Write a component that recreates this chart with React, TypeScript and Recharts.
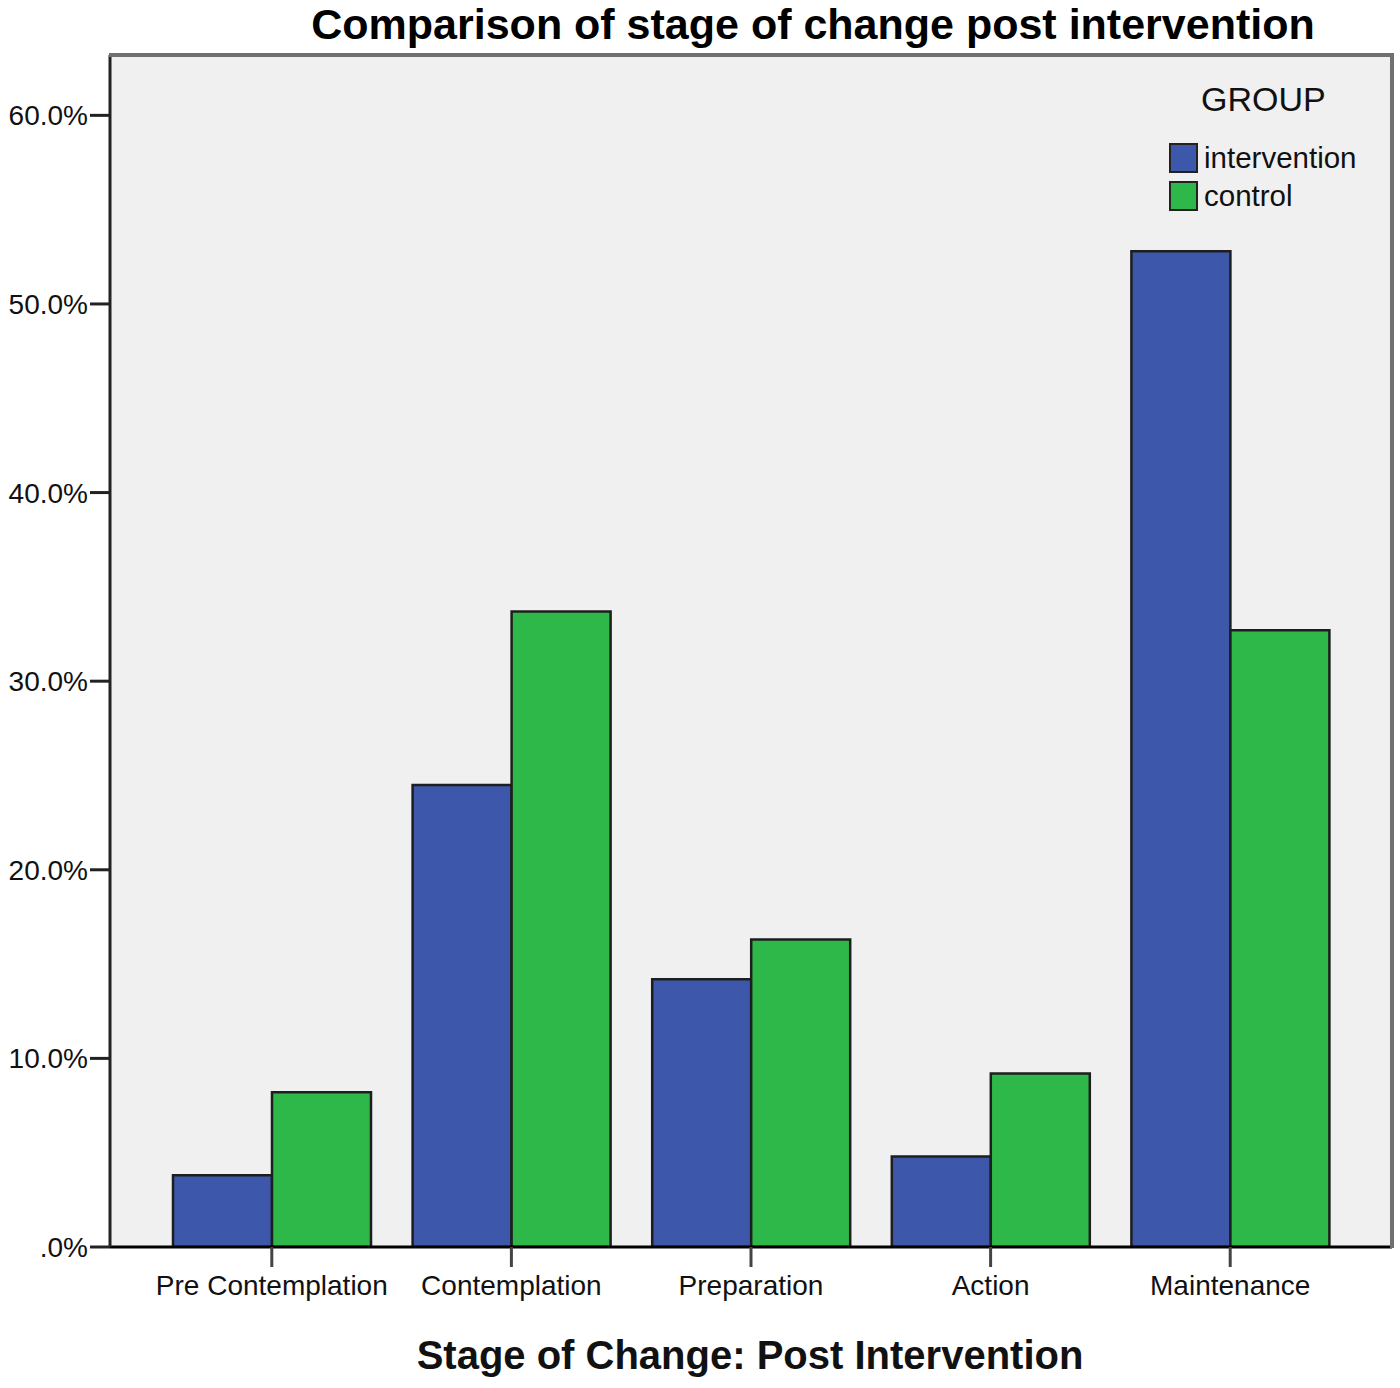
import React from "react";
import { BarChart, Bar, XAxis, YAxis, CartesianGrid } from "recharts";

const stages = [
    "Pre Contemplation",
    "Contemplation",
    "Preparation",
    "Action",
    "Maintenance",
];
const interventionPct = [3.8, 24.5, 14.2, 4.8, 52.8];
const controlPct = [8.2, 33.7, 16.3, 9.2, 32.7];
const yTicks = [0, 10, 20, 30, 40, 50, 60];
const groups = ["intervention", "control"];

const BLUE = "#3d57ab";
const GREEN = "#2fb84a";
const FONT = "'Liberation Sans', Arial, sans-serif";
const groupColors = [BLUE, GREEN];

const data = stages.map((stage, i) => ({
    stage,
    intervention: interventionPct[i],
    control: controlPct[i],
}));

const formatPct = (v: number) => (v === 0 ? ".0%" : `${v.toFixed(1)}%`);

const GroupLegend = () => (
    <div
        style={{
            position: "absolute",
            left: 1169,
            top: 80,
            fontFamily: FONT,
            color: "#111",
        }}
    >
        <div style={{ fontSize: 34, marginLeft: 32, marginBottom: 20 }}>
            GROUP
        </div>
        {groups.map((name, i) => (
            <div
                key={name}
                style={{ display: "flex", alignItems: "center", height: 38 }}
            >
                <span
                    style={{
                        display: "inline-block",
                        width: 25,
                        height: 26,
                        background: groupColors[i],
                        border: "2px solid #222",
                        marginRight: 6,
                    }}
                />
                <span style={{ fontSize: 29.5 }}>{name}</span>
            </div>
        ))}
    </div>
);

const App = () => {
    return (
        <div
            style={{
                position: "absolute",
                left: 0,
                top: 0,
                width: 1400,
                height: 1388,
                background: "#fff",
                fontFamily: FONT,
            }}
        >
            <div
                style={{
                    position: "absolute",
                    left: 0,
                    width: 1626,
                    top: 0,
                    textAlign: "center",
                    fontSize: 43,
                    fontWeight: "bold",
                    color: "#000",
                }}
            >
                Comparison of stage of change post intervention
            </div>
            <BarChart
                width={1400}
                height={1388}
                data={data}
                margin={{ top: 55, right: 8, left: 0, bottom: 0 }}
                barCategoryGap={21}
                barGap={0}
            >
                <CartesianGrid
                    fill="#f0f0f0"
                    horizontal={false}
                    vertical={false}
                />
                <XAxis
                    dataKey="stage"
                    height={141}
                    padding={{ left: 42, right: 42 }}
                    tickSize={20}
                    tickMargin={8}
                    axisLine={{ stroke: "#000", strokeWidth: 3 }}
                    tickLine={{ stroke: "#444", strokeWidth: 3 }}
                    tick={{ fill: "#111", fontSize: 28, fontFamily: FONT }}
                    interval={0}
                />
                <YAxis
                    width={110}
                    domain={[0, 63.2]}
                    ticks={yTicks}
                    tickFormatter={formatPct}
                    tickSize={20}
                    tickMargin={2}
                    axisLine={{ stroke: "#222", strokeWidth: 3 }}
                    tickLine={{ stroke: "#222", strokeWidth: 3 }}
                    tick={{ fill: "#111", fontSize: 28, fontFamily: FONT }}
                    allowDataOverflow
                />
                <Bar
                    dataKey="intervention"
                    fill={BLUE}
                    stroke="#1e1e1e"
                    strokeWidth={2.5}
                    isAnimationActive={false}
                />
                <Bar
                    dataKey="control"
                    fill={GREEN}
                    stroke="#1e1e1e"
                    strokeWidth={2.5}
                    isAnimationActive={false}
                />
            </BarChart>
            {/* plot frame: top and right edges */}
            <div
                style={{
                    position: "absolute",
                    left: 109,
                    top: 53,
                    width: 1285,
                    height: 4,
                    background: "#707070",
                }}
            />
            <div
                style={{
                    position: "absolute",
                    left: 1390,
                    top: 53,
                    width: 4,
                    height: 1195,
                    background: "#707070",
                }}
            />
            <GroupLegend />
            <div
                style={{
                    position: "absolute",
                    left: 0,
                    width: 1500,
                    top: 1333,
                    textAlign: "center",
                    fontSize: 40,
                    fontWeight: "bold",
                    color: "#111",
                }}
            >
                Stage of Change: Post Intervention
            </div>
        </div>
    );
};

export default App;
